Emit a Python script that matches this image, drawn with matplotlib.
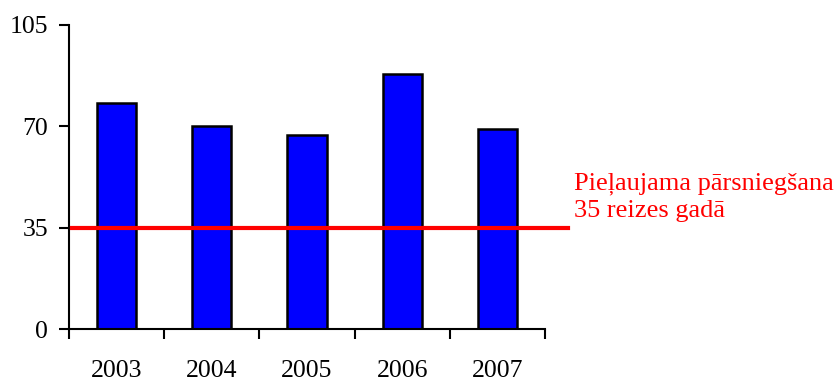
import matplotlib
matplotlib.use("Agg")
import matplotlib.pyplot as plt

years = ["2003", "2004", "2005", "2006", "2007"]
values = [78, 70, 67, 88, 69]
limit_value = 35
yticks = [0, 35, 70, 105]
limit_label = "Pieļaujama pārsniegšana\n35 reizes gadā"

plt.rcParams['font.family'] = ['Liberation Serif', 'DejaVu Serif']

fig = plt.figure(figsize=(8.39, 3.80), dpi=100)
ax = fig.add_axes([69/839, 1-329/380, (545-69)/839, (329-25)/380])

x = list(range(len(years)))
ax.bar(x, values, width=0.41, color='#0000FF', edgecolor='black', linewidth=1.8, zorder=2)
ax.set_xlim(-0.5, len(years)-0.5)
ax.set_ylim(0, 105)
ax.set_yticks(yticks)
ax.set_yticklabels([str(v) for v in yticks], fontsize=18.5)
ax.set_xticks([i - 0.5 for i in range(len(years)+1)])
ax.set_xticklabels([])
ax.set_xticks(x, minor=True)
ax.set_xticklabels(years, minor=True, fontsize=18.5)
ax.tick_params(axis='x', which='minor', length=0, pad=22)
ax.tick_params(axis='x', which='major', direction='out', length=7, width=1.5)
ax.tick_params(axis='y', direction='out', length=7, width=1.5, pad=8)
for s in ['top', 'right']:
    ax.spines[s].set_visible(False)
for s in ['left', 'bottom']:
    ax.spines[s].set_linewidth(1.5)

ax.plot([-0.47, 4.74], [limit_value, limit_value], color='#FF0000', linewidth=3, clip_on=False, zorder=3)
ax.text(4.805, 45.5, limit_label, color='#FF0000', fontsize=19, ha='left', va='center', linespacing=1.28)

fig.savefig("out.png", dpi=100)
